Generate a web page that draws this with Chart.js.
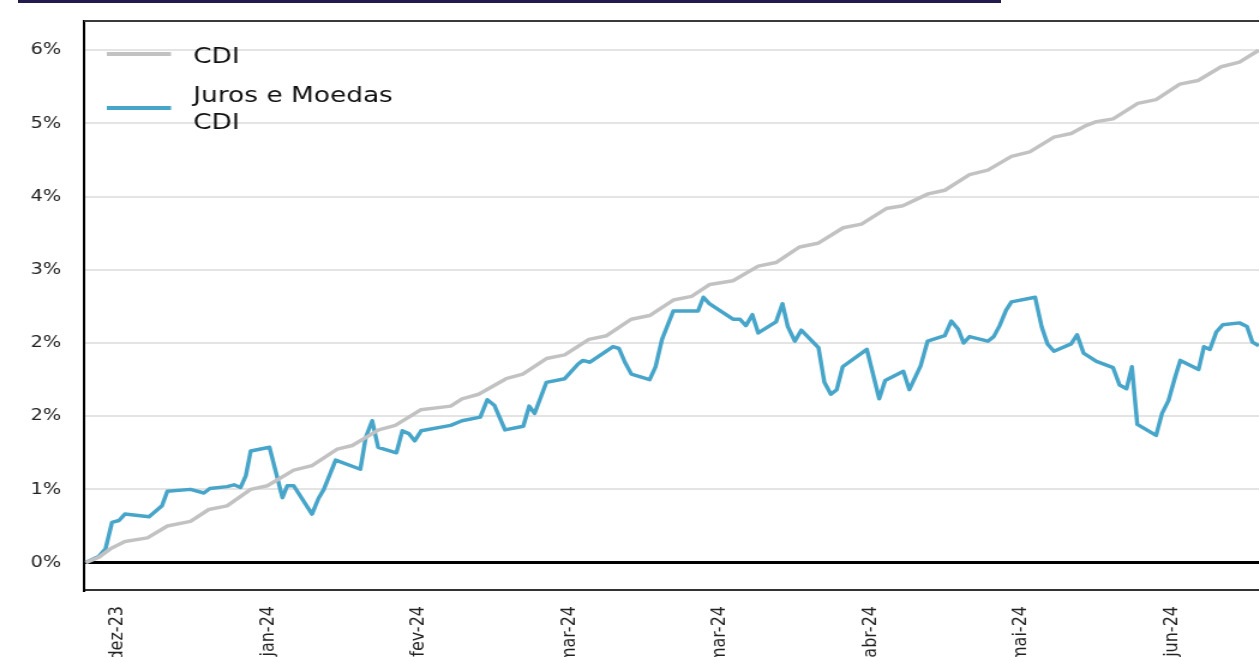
<!DOCTYPE html>
<html lang="pt-BR">
<head>
<meta charset="utf-8">
<title>Juros e Moedas x CDI</title>
<script src="https://cdn.jsdelivr.net/npm/chart.js@4/dist/chart.umd.min.js"></script>
<style>
    html, body { margin: 0; padding: 0; background: #fff; overflow: hidden; width: 1259px; height: 657px; }
    /* barra do titulo (cortada no topo) */
    #barra-titulo { position: absolute; left: 18px; top: 0; width: 983px; height: 3px; background: #231a4e; }
    /* o grafico original esta esticado na horizontal */
    #wrap { position: absolute; left: 0; top: 0; width: 1070px; height: 720px; transform: scaleX(1.2); transform-origin: 0 0; }
</style>
</head>
<body>
<div id="barra-titulo"></div>
<div id="wrap"><canvas id="grafico" width="1070" height="720"></canvas></div>
<script>
// Eixo x em dias corridos desde o inicio da serie
const xTickDias = [6, 34, 62, 90, 118, 146, 174, 202];
const xTickLabels = ['dez-23', 'jan-24', 'fev-24', 'mar-24', 'mar-24', 'abr-24', 'mai-24', 'jun-24'];

// Eixo y (os rotulos vem arredondados no original)
const yTickValores = [0, 0.8, 1.6, 2.4, 3.2, 4.0, 4.8, 5.6];
const yTickLabels = ['0%', '1%', '2%', '2%', '3%', '4%', '5%', '6%'];

// CDI acumulado (%)
const cdiDias = [0, 2.5, 4.6, 7.3, 11.5, 15.2, 19.5, 22.9, 26.3, 30.7, 33.8, 38.7, 42.1, 46.8, 49.6,
    54.5, 57.6, 62.3, 67.9, 70.0, 73.1, 78.2, 81.3, 85.7, 89.1, 93.6, 96.9, 101.5, 104.9, 109.3,
    112.7, 116.1, 120.4, 125.1, 128.4, 132.8, 136.2, 140.9, 144.3, 148.9, 152.0, 156.7, 159.8,
    164.4, 167.8, 172.2, 175.6, 180.1, 183.3, 185.8, 188.0, 191.1, 195.7, 199.1, 203.5, 206.9,
    211.2, 214.6, 218.2];
const cdiValores = [0, 0.06, 0.15, 0.23, 0.27, 0.40, 0.45, 0.58, 0.62, 0.80, 0.84, 1.01, 1.06, 1.24, 1.28,
    1.45, 1.50, 1.67, 1.71, 1.79, 1.84, 2.01, 2.06, 2.23, 2.27, 2.44, 2.48, 2.66, 2.70, 2.87,
    2.91, 3.04, 3.08, 3.24, 3.28, 3.45, 3.49, 3.66, 3.70, 3.87, 3.90, 4.03, 4.07,
    4.24, 4.29, 4.44, 4.49, 4.65, 4.69, 4.77, 4.82, 4.85, 5.02, 5.06, 5.23, 5.27,
    5.42, 5.47, 5.60];

// Juros e Moedas acumulado (%)
const jmDias = [0, 2.5, 3.7, 4.9, 6.2, 7.3, 11.8, 14.2, 15.2, 19.5, 22.0, 23.1, 26.3, 27.6, 28.8,
    29.8, 30.7, 34.2, 36.6, 37.5, 38.7, 42.1, 43.3, 44.3, 46.5, 51.1, 52.1, 53.3, 54.4, 57.8,
    58.9, 60.1, 61.2, 62.4, 67.9, 70.0, 73.4, 74.7, 76.0, 78.0, 81.4, 82.5, 83.5, 85.7, 89.1,
    91.6, 92.5, 93.8, 98.1, 99.2, 100.3, 101.5, 104.9, 106.0, 107.2, 109.3, 113.9, 114.9, 116.0,
    120.4, 121.7, 122.8, 124.0, 125.1, 128.4, 129.6, 130.6, 131.9, 133.1, 136.3, 137.4, 138.6,
    139.7, 140.8, 145.3, 147.6, 148.7, 152.1, 153.2, 155.3, 156.6, 159.8, 161.0, 162.3, 163.3,
    164.4, 167.8, 168.9, 170.0, 171.2, 172.2, 176.6, 177.8, 178.9, 180.1, 183.3, 184.4, 185.6,
    188.0, 191.1, 192.3, 193.6, 194.6, 195.6, 199.1, 200.2, 201.4, 202.6, 203.6, 207.0, 208.0,
    209.1, 210.3, 211.5, 214.6, 216.0, 217.0, 218.2];
const jmValores = [0, 0.07, 0.15, 0.44, 0.46, 0.53, 0.50, 0.62, 0.78, 0.80, 0.76, 0.81, 0.83, 0.85, 0.82,
    0.95, 1.22, 1.26, 0.71, 0.84, 0.84, 0.53, 0.70, 0.80, 1.12, 1.02, 1.37, 1.55, 1.26, 1.20,
    1.44, 1.41, 1.33, 1.44, 1.50, 1.55, 1.59, 1.78, 1.72, 1.45, 1.49, 1.71, 1.63, 1.97, 2.01,
    2.17, 2.21, 2.19, 2.36, 2.34, 2.19, 2.06, 2.00, 2.14, 2.44, 2.75, 2.75, 2.90, 2.83,
    2.66, 2.66, 2.59, 2.71, 2.51, 2.63, 2.83, 2.58, 2.42, 2.54, 2.35, 1.97, 1.84,
    1.89, 2.14, 2.33, 1.79, 1.99, 2.09, 1.89, 2.15, 2.42, 2.48, 2.64, 2.55, 2.40,
    2.47, 2.42, 2.47, 2.59, 2.76, 2.85, 2.90, 2.58, 2.39, 2.31, 2.39, 2.49, 2.29,
    2.20, 2.13, 1.94, 1.90, 2.14, 1.51, 1.39, 1.63, 1.77, 2.02, 2.21, 2.11, 2.36,
    2.33, 2.52, 2.60, 2.62, 2.58, 2.41, 2.37];

const corCdi = '#c2c2c2';
const corJm = '#47a5c9';
const fonte = "'DejaVu Sans', Verdana, sans-serif";

function pares(dias, valores) {
    return dias.map((d, i) => ({ x: d, y: valores[i] }));
}

// Moldura (topo) + legenda desenhada dentro da area do grafico
const molduraLegenda = {
    id: 'molduraLegenda',
    afterDraw(chart) {
        const c = chart.ctx;
        const a = chart.chartArea;
        c.save();
        c.strokeStyle = '#3a3a3a';
        c.lineWidth = 2;
        c.beginPath();
        c.moveTo(a.left, a.top);
        c.lineTo(a.right, a.top);
        c.stroke();

        // legenda
        const itens = [
            { cor: corCdi, y: 54, linhas: ['CDI'], base: 62.5 },
            { cor: corJm, y: 108, linhas: ['Juros e Moedas', 'CDI'], base: 101.5 }
        ];
        c.font = '22px ' + fonte;
        c.fillStyle = '#111';
        c.textBaseline = 'alphabetic';
        c.textAlign = 'left';
        itens.forEach(it => {
            c.strokeStyle = it.cor;
            c.lineWidth = 4;
            c.beginPath();
            c.moveTo(89, it.y);
            c.lineTo(142.5, it.y);
            c.stroke();
            it.linhas.forEach((t, k) => c.fillText(t, 161, it.base + k * 27.5));
        });
        c.restore();
    }
};

const ctx = document.getElementById('grafico').getContext('2d');
new Chart(ctx, {
    type: 'line',
    data: {
        datasets: [
            {
                label: 'CDI',
                data: pares(cdiDias, cdiValores),
                borderColor: corCdi,
                borderWidth: 3.5,
                pointRadius: 0,
                tension: 0,
                borderJoinStyle: 'round'
            },
            {
                label: 'Juros e Moedas CDI',
                data: pares(jmDias, jmValores),
                borderColor: corJm,
                borderWidth: 3.5,
                pointRadius: 0,
                tension: 0,
                borderJoinStyle: 'round'
            }
        ]
    },
    options: {
        responsive: false,
        animation: false,
        events: [],
        layout: { padding: { top: 21, right: 4, bottom: 0, left: 0 } },
        plugins: {
            legend: { display: false },
            tooltip: { enabled: false }
        },
        scales: {
            x: {
                type: 'linear',
                min: -0.3,
                max: 222,
                afterBuildTicks: scale => { scale.ticks = xTickDias.map(v => ({ value: v })); },
                afterFit: scale => { scale.height = 130; },
                grid: { display: false, drawTicks: false },
                border: { display: true, color: '#333', width: 2 },
                ticks: {
                    autoSkip: false,
                    maxRotation: 90,
                    minRotation: 90,
                    padding: 16,
                    color: '#222',
                    font: { family: fonte, size: 16 },
                    callback: (v, i) => xTickLabels[i]
                }
            },
            y: {
                min: -0.3,
                max: 5.92,
                afterBuildTicks: scale => { scale.ticks = yTickValores.map(v => ({ value: v })); },
                afterFit: scale => {
                    scale.width = 70;
                    scale.paddingTop = 0;
                    scale.paddingBottom = 0;
                },
                grid: {
                    drawTicks: false,
                    color: c => (c.tick && c.tick.value === 0 ? '#000' : '#e4e4e4'),
                    lineWidth: c => (c.tick && c.tick.value === 0 ? 3 : 2)
                },
                border: { display: true, color: '#000', width: 2 },
                ticks: {
                    padding: 19,
                    color: '#222',
                    font: { family: fonte, size: 16 },
                    callback: (v, i) => yTickLabels[i]
                }
            }
        }
    },
    plugins: [molduraLegenda]
});
</script>
</body>
</html>
